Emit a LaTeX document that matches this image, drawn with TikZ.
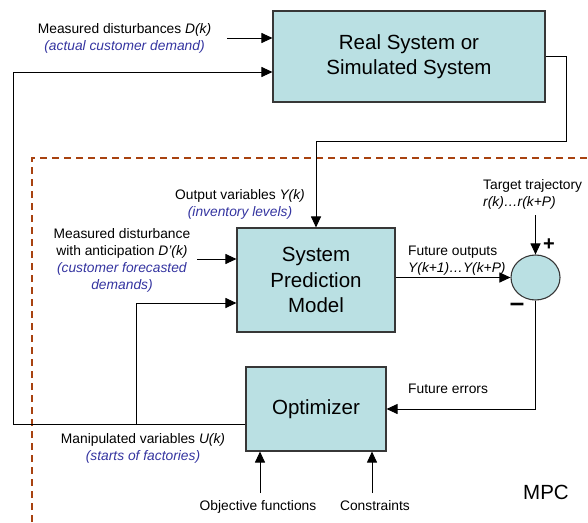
\documentclass[tikz,border=0pt]{standalone}
\usepackage{fontspec}
\setmainfont{Liberation Sans}
\usetikzlibrary{positioning,arrows.meta,shapes.geometric,calc}
\definecolor{mpcfill}{RGB}{186,224,227}
\definecolor{mpcedge}{RGB}{55,55,55}
\definecolor{mpcblue}{RGB}{52,52,160}
\definecolor{mpcdash}{RGB}{168,66,16}
\tikzstyle{sbox}=[rectangle, draw=mpcedge, fill=mpcfill, line width=1.1pt,
                  inner sep=0pt, align=center, font=\fontsize{20.5}{24.5}\selectfont]
\tikzstyle{slbl}=[inner sep=0pt, font=\fontsize{13.8}{17}\selectfont]
\tikzstyle{sarrow}=[-{Triangle[length=11pt,width=10pt]}, line width=1pt]
\tikzstyle{sline}=[-, line width=1pt]
\newcommand{\bluelbl}[1]{\textcolor{mpcblue}{\textit{#1}}}

\begin{document}
\begin{tikzpicture}[x=1pt,y=-1pt]
\useasboundingbox (0,0) rectangle (588,522);

% MPC frame
\draw[mpcdash, line width=2pt, dash pattern=on 7pt off 5pt] (32,522) -- (32,158) -- (588,158);

\node (RSYS) [sbox, minimum width=272pt, minimum height=91pt] at (409,56.5) {Real System or\\Simulated System};
\node (SPM) [sbox, minimum width=158pt, minimum height=104pt, font=\fontsize{20.5}{25.5}\selectfont] at (316,280) {System\\Prediction\\Model};
\node (OPT) [sbox, minimum width=140pt, minimum height=84pt] at (316,409) {Optimizer};
\node (SUM) [ellipse, draw=mpcedge, fill=mpcfill, line width=1.1pt, inner sep=0pt,
             minimum width=49pt, minimum height=45pt] at (535.5,277.5) {};

\node (DKLBL) [slbl, align=center] at (124.5,38.9) {Measured disturbances \textit{D(k)}\\\bluelbl{(actual customer demand)}};
\node (YKLBL) [slbl, align=center] at (240,204.9) {Output variables \textit{Y(k)}\\\bluelbl{(inventory levels)}};
\node (DPLBL) [slbl, align=center] at (122,260.4) {Measured disturbance\\with anticipation \textit{D’(k)}\\\bluelbl{(customer forecasted}\\\bluelbl{demands)}};
\node (FOLBL) [slbl, align=left, anchor=west] at (408,260.4) {Future outputs\\\textit{Y(k+1)…Y(k+P)}};
\node (TTLBL) [slbl, align=left, anchor=west] at (483,194.9) {Target trajectory\\\textit{r(k)…r(k+P)}};
\node (FELBL) [slbl, anchor=base west] at (408,393) {Future errors};
\node (UKLBL) [slbl, align=center] at (143,448.4) {Manipulated variables \textit{U(k)}\\\bluelbl{(starts of factories)}};
\node (OBJLBL) [slbl, anchor=base] at (258,510) {Objective functions};
\node (CONLBL) [slbl, anchor=base] at (375,510) {Constraints};
\node (MPCLBL) [inner sep=0pt, anchor=base, font=\fontsize{20.5}{24}\selectfont] at (546,499) {MPC};
\node (PLUS) [inner sep=0pt, font=\fontsize{20}{24}\selectfont\bfseries] at (549,245) {+};
\node (MINUS) [inner sep=0pt, font=\fontsize{26}{28}\selectfont\bfseries] at (517,307) {–};

\coordinate (DIN) at (227,38);
\coordinate (DPIN) at (197,259);
\coordinate (ULEFT) at (13,424);
\coordinate (UBR) at (136,424);
\coordinate (YJOIN) at (316,141);
\coordinate (TIN) at (535.5,215);
\coordinate (OBJIN) at (260,493);
\coordinate (CONIN) at (372,493);

\draw[sarrow] (DIN) -- (DIN -| RSYS.west);
\draw[sarrow] (OPT.west |- ULEFT) -- (ULEFT) |- ([yshift=-15.5pt]RSYS.west);
\draw[sarrow] (UBR) |- ([yshift=-23pt]SPM.west);
\draw[sarrow] (DPIN) -- (DPIN -| SPM.west);
\draw[sarrow] (RSYS.east) -- ++(21,0) |- (YJOIN) -- (SPM.north);
\draw[sarrow] (SPM.east |- SUM.west) -- (SUM.west);
\draw[sarrow] (TIN) -- (SUM.north);
\draw[sarrow] (SUM.south) |- (OPT.east);
\draw[sarrow] (OBJIN) -- (OBJIN |- OPT.south);
\draw[sarrow] (CONIN) -- (CONIN |- OPT.south);

\end{tikzpicture}
\end{document}
